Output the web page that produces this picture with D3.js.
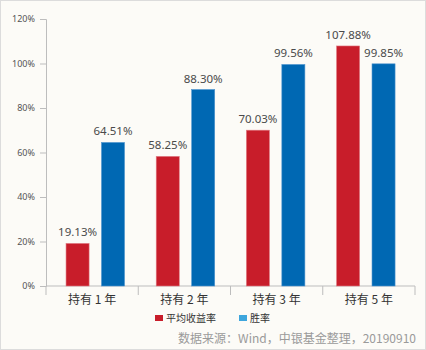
<!DOCTYPE html>
<html>
<head>
<meta charset="utf-8">
<script src="https://cdn.jsdelivr.net/npm/d3@7"></script>
<style>
html,body{margin:0;padding:0;background:#fcfbf7;}
svg{display:block;font-family:"Noto Sans CJK SC","Noto Sans",sans-serif;}
</style>
</head>
<body>
<svg id="chart" width="426" height="350"></svg>
<script>
const categories = ["持有 1 年", "持有 2 年", "持有 3 年", "持有 5 年"];
const seriesNames = ["平均收益率", "胜率"];
const avgReturn = [19.13, 58.25, 70.03, 107.88];
const winRate = [64.51, 88.30, 99.56, 99.85];
const yTicks = [0, 20, 40, 60, 80, 100, 120];
const sourceText = "数据来源：Wind，中银基金整理，20190910";

const barColors = ["#c81d2a", "#0068b3"];
const legendColors = ["#c81d2a", "#3ea6dd"];

const svg = d3.select("#chart");
svg.append("rect").attr("x",0.5).attr("y",0.5).attr("width",425).attr("height",349)
  .attr("fill","#fcfbf7").attr("stroke","#dcdcdc");

const y = d3.scaleLinear().domain([0,120]).range([286,19]);
const x0 = d3.scaleBand().domain(categories).range([46,415]).paddingInner(0).paddingOuter(0);
const xb = d3.scaleBand().domain(categories).range([50.2,410.9]).paddingInner(0).paddingOuter(0);
const x1 = d3.scaleBand().domain(seriesNames).range([0,58.5]).paddingInner(0.35).paddingOuter(0);

// Y axis
const yAxis = d3.axisLeft(y).tickValues(yTicks).tickFormat(d => d + "%").tickSize(6).tickPadding(5);
const gy = svg.append("g").attr("transform","translate(46,0)").call(yAxis);
gy.select(".domain").attr("stroke","#bdbdbd");
gy.selectAll(".tick line").attr("stroke","#bdbdbd");
gy.selectAll(".tick text").attr("fill","#555").style("font-size","9px").style("font-family","'Noto Sans','Noto Sans CJK SC',sans-serif");

// X axis
const gx = svg.append("g").attr("transform","translate(0,286)");
gx.append("line").attr("x1",46).attr("x2",415).attr("y1",0).attr("y2",0).attr("stroke","#bdbdbd");
const bounds = categories.map(c => x0(c)).concat([x0.range()[1]]);
gx.selectAll("line.tk").data(bounds).enter().append("line").attr("class","tk")
  .attr("x1",d=>d).attr("x2",d=>d).attr("y1",0).attr("y2",9).attr("stroke","#bdbdbd");
gx.selectAll("text").data(categories).enter().append("text")
  .attr("x",d => x0(d)+x0.bandwidth()/2).attr("y",18)
  .attr("text-anchor","middle").attr("fill","#333").style("font-size","12px").text(d=>d);

// Bars
const data = categories.map((c,i) => ({cat:c, vals:[avgReturn[i], winRate[i]]}));
const groups = svg.append("g").selectAll("g").data(data).enter().append("g")
  .attr("transform", d => `translate(${xb(d.cat)+xb.bandwidth()/2-29.25},0)`);
groups.selectAll("rect").data(d => d.vals.map((v,j)=>({s:seriesNames[j], v, j}))).enter().append("rect")
  .attr("x", d => x1(d.s)).attr("y", d => y(d.v))
  .attr("width", x1.bandwidth()).attr("height", d => y(0)-y(d.v))
  .attr("fill", d => barColors[d.j])
  .attr("stroke", d => d.j===0 ? "#e07a82" : "#4f95cf").attr("stroke-width",0.6);
groups.selectAll("text").data(d => d.vals.map((v,j)=>({s:seriesNames[j], v, j}))).enter().append("text")
  .attr("x", d => x1(d.s)+x1.bandwidth()/2).attr("y", d => y(d.v)-7)
  .attr("text-anchor","middle").attr("fill","#4a4a4a")
  .style("font-size","11.5px").style("font-family","'Noto Sans','Noto Sans CJK SC',sans-serif")
  .text(d => d.v.toFixed(2) + "%");

// Legend
const legX = [155, 239];
const leg = svg.append("g");
seriesNames.forEach((s,i) => {
  leg.append("rect").attr("x",legX[i]).attr("y",315).attr("width",8).attr("height",6).attr("fill",legendColors[i]);
  leg.append("text").attr("x",legX[i]+11).attr("y",322).attr("fill","#333").style("font-size","10px").text(s);
});

// Source
svg.append("text").attr("x",416).attr("y",343).attr("text-anchor","end")
  .attr("fill","#9a9a9a").style("font-size","12px").text(sourceText);
</script>
</body>
</html>
